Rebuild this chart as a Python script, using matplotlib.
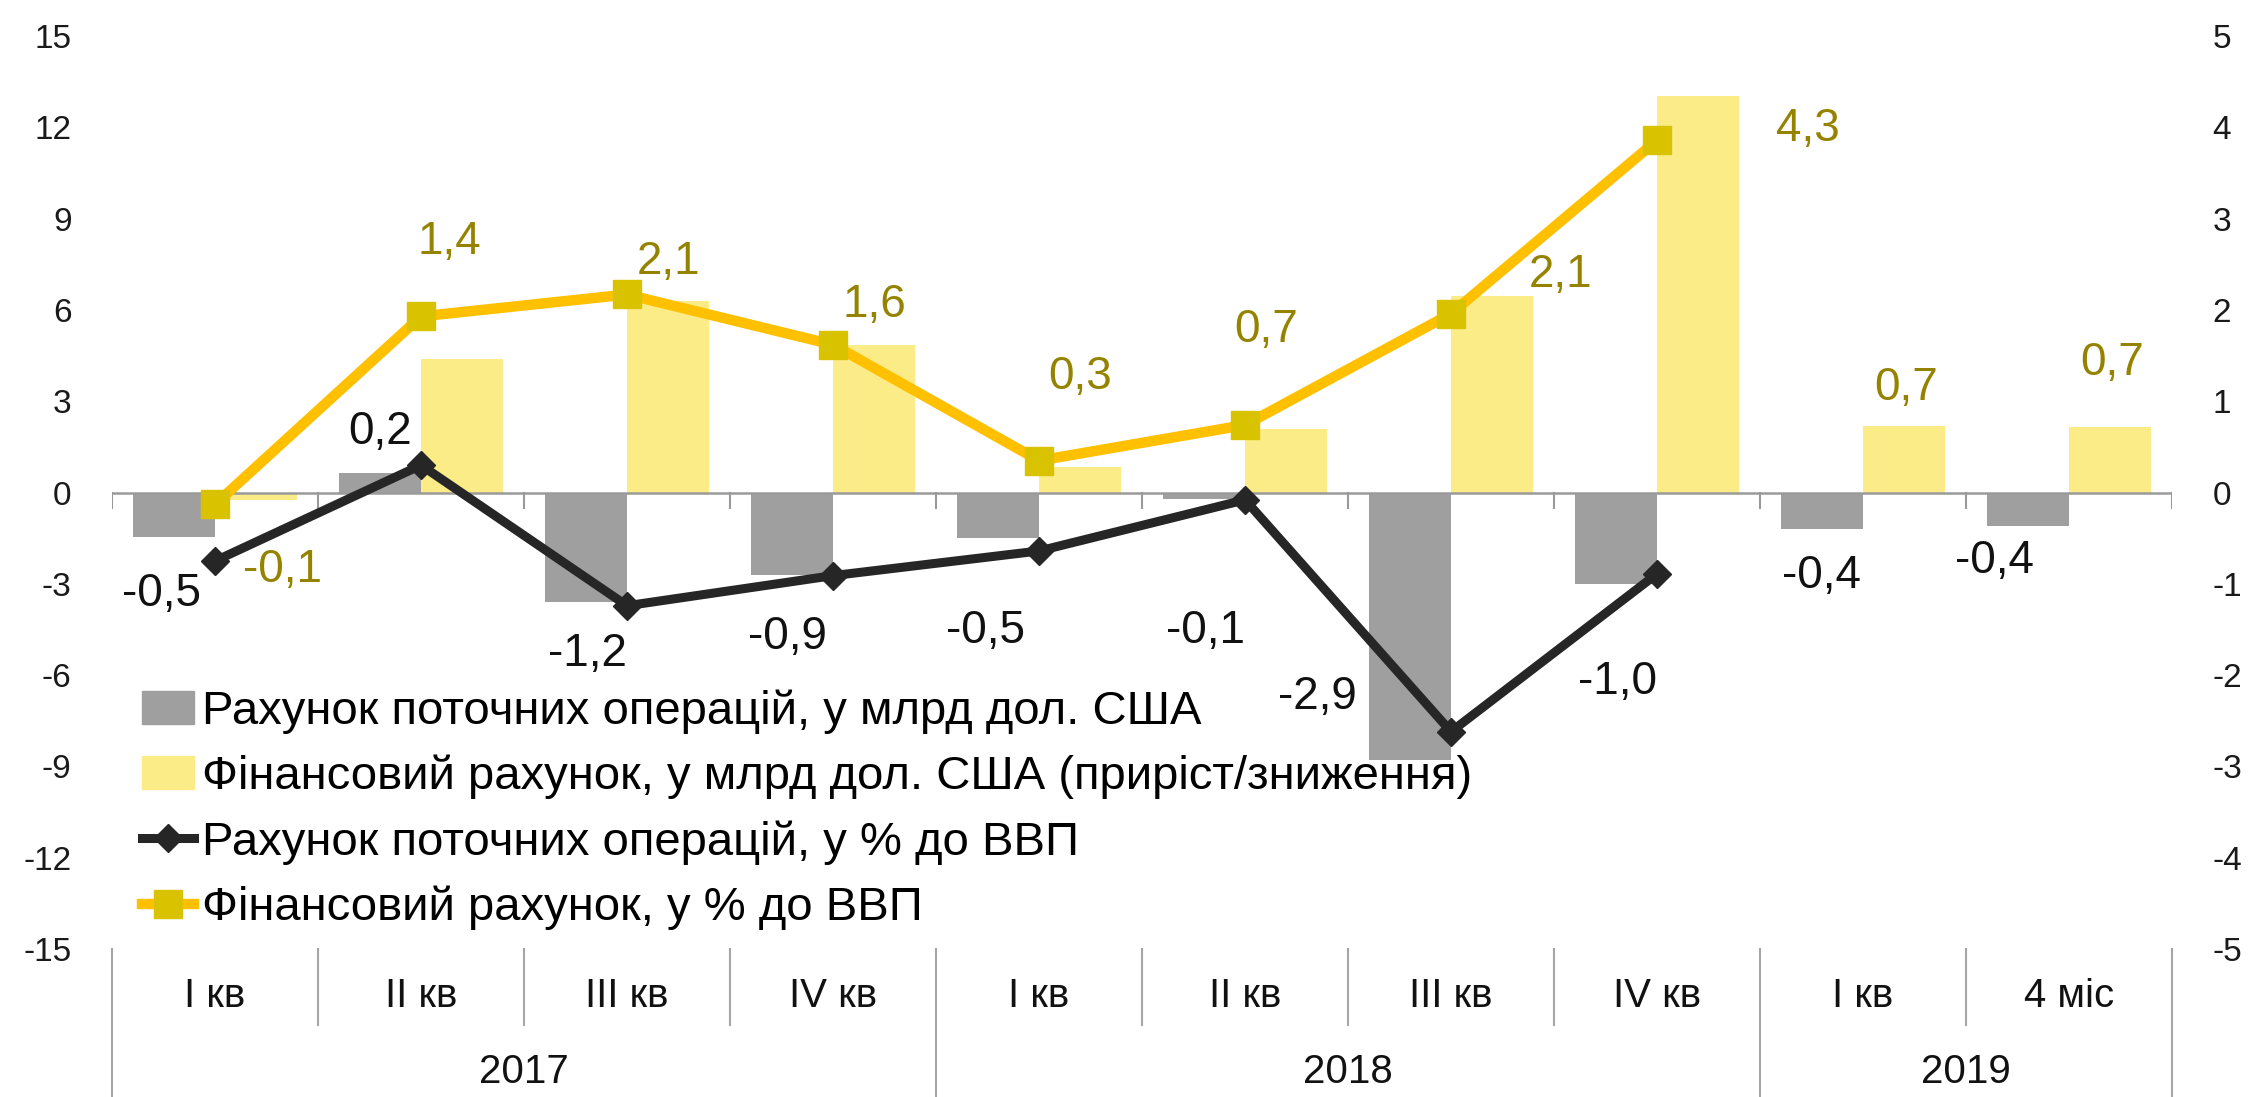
import numpy as np
import matplotlib
matplotlib.use("Agg")
from matplotlib import pyplot as plt
from matplotlib.patches import Patch
from matplotlib.lines import Line2D

plt.rcParams['font.family'] = ['Liberation Sans', 'DejaVu Sans']
plt.rcParams['axes.unicode_minus'] = False

quarters = ['I кв', 'II кв', 'III кв', 'IV кв', 'I кв', 'II кв', 'III кв', 'IV кв', 'I кв', '4 міс']
years = ['2017', '2018', '2019']
year_len = [4, 4, 2]

# bars, bn USD (left axis)
ca_bn = [-1.45, 0.65, -3.6, -2.7, -1.5, -0.2, -8.8, -3.0, -1.2, -1.1]
fa_bn = [-0.25, 4.4, 6.3, 4.85, 0.85, 2.1, 6.45, 13.05, 2.2, 2.15]
# lines, % of GDP (right axis)
ca_gdp = [-0.75, 0.3, -1.24, -0.91, -0.64, -0.08, -2.62, -0.89]
fa_gdp = [-0.13, 1.93, 2.17, 1.62, 0.35, 0.74, 1.96, 3.86]

ca_lbl = ['-0,5', '0,2', '-1,2', '-0,9', '-0,5', '-0,1', '-2,9', '-1,0', '-0,4', '-0,4']
fa_lbl = ['-0,1', '1,4', '2,1', '1,6', '0,3', '0,7', '2,1', '4,3', '0,7', '0,7']
# label placement (category x, left-axis y)
ca_lbl_x = [-0.26, 0.80, 1.81, 2.78, 3.74, 4.81, 5.35, 6.81, 7.80, 8.64]
ca_lbl_y = [-3.34, 1.99, -5.3, -4.75, -4.55, -4.55, -6.72, -6.23, -2.73, -2.25]
fa_lbl_x = [0.33, 1.14, 2.20, 3.20, 4.20, 5.10, 6.53, 7.73, 8.21, 9.21]
fa_lbl_y = [-2.55, 8.23, 7.57, 6.16, 3.8, 5.34, 7.15, 11.94, 3.45, 4.27]

GRAY = '#a09fa0'
LYEL = '#fbec87'
BLK = '#262626'
GOLD = '#ffc000'
GOLDMK = '#d9c300'
OLIVE = '#958300'

fig = plt.figure(figsize=(22.49, 10.97), dpi=100)
ax = fig.add_axes([0.0498, 0.135, 0.916, 0.832])
ax2 = ax.twinx()

x = np.arange(len(quarters))
xl = np.arange(len(ca_gdp))
w = 0.4
ax.bar(x - w / 2, ca_bn, w, color=GRAY, zorder=2)
ax.bar(x + w / 2, fa_bn, w, color=LYEL, zorder=2)
ax.axhline(0, color='#9a9a9a', lw=1.8, zorder=3)
for b in np.arange(len(quarters) + 1) - 0.5:
    ax.plot([b, b], [0, -0.5], color='#9a9a9a', lw=1.5, zorder=3)

ax2.plot(xl, ca_gdp, color=BLK, lw=6.5, marker='D', ms=14, mfc=BLK, mec=BLK)
ax2.plot(xl, fa_gdp, color=GOLD, lw=7.5, marker='s', ms=20, mfc=GOLDMK, mec=GOLDMK)

ax.set_xlim(-0.5, len(quarters) - 0.5)
ax.set_ylim(-15, 15)
ax.set_yticks(np.arange(-15, 16, 3))
ax2.set_ylim(-5, 5)
ax2.set_yticks(np.arange(-5, 6, 1))
ax.set_xticks([])
for a in (ax, ax2):
    for s in a.spines.values():
        s.set_visible(False)
ax.tick_params(axis='y', length=0, pad=29, labelsize=24, colors='#1a1a1a')
ax2.tick_params(axis='y', length=0, pad=29, labelsize=24, colors='#1a1a1a')

for i in range(len(quarters)):
    ax2.text(ca_lbl_x[i], ca_lbl_y[i] / 3, ca_lbl[i], ha='center', va='center',
             fontsize=33, color='#111111')
    ax2.text(fa_lbl_x[i], fa_lbl_y[i] / 3, fa_lbl[i], ha='center', va='center',
             fontsize=33, color=OLIVE)

# two-level category axis
tr = ax.get_xaxis_transform()
for i, q in enumerate(quarters):
    ax.text(i, -0.0515, q, transform=tr, ha='center', va='center', fontsize=29, color='#111111')
bounds = np.cumsum([0] + year_len)
for k in range(len(quarters) + 1):
    low = -0.17 if k in bounds else -0.083
    ax.plot([k - 0.5, k - 0.5], [0, low], transform=tr, color='#a6a6a6', lw=1.5, clip_on=False)
for j, yr in enumerate(years):
    mid = (bounds[j] + bounds[j + 1]) / 2 - 0.5
    ax.text(mid, -0.135, yr, transform=tr, ha='center', va='center', fontsize=29, color='#111111')

handles = [
    Patch(color=GRAY),
    Patch(color=LYEL),
    Line2D([], [], color=BLK, lw=6.5, marker='D', ms=14),
    Line2D([], [], color=GOLD, lw=7.5, marker='s', ms=20, mfc=GOLDMK, mec=GOLDMK),
]
labels = [
    'Рахунок поточних операцій, у млрд дол. США',
    'Фінансовий рахунок, у млрд дол. США (приріст/зниження)',
    'Рахунок поточних операцій, у % до ВВП',
    'Фінансовий рахунок, у % до ВВП',
]
ax2.legend(handles, labels, loc='upper left', bbox_to_anchor=(0.0146, 0.284), frameon=False,
           fontsize=34, handlelength=1.1, handletextpad=0.17, labelspacing=0.44,
           borderpad=0, borderaxespad=0)

fig.savefig('out.png', dpi=100)
